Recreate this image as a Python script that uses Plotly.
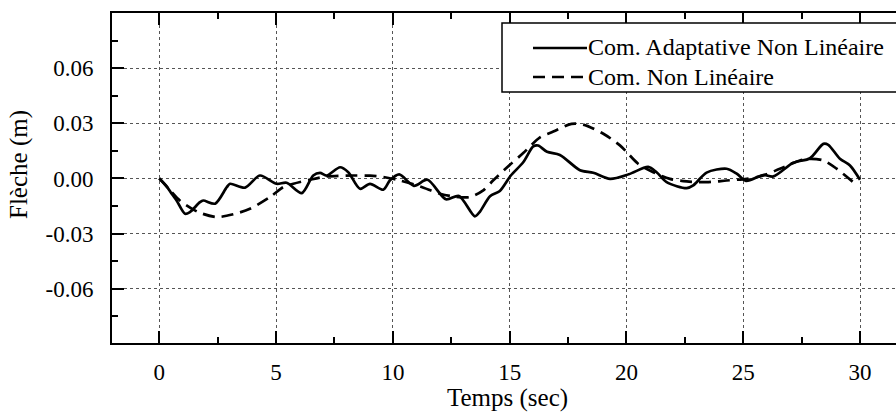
import plotly.graph_objects as go

# ---- data ----
t_adapt = [0.0, 0.3, 0.53, 0.74, 1.1, 1.31, 1.74, 1.88, 2.39, 2.89, 3.03, 3.67, 4.31, 5.02, 5.45,
           6.1, 6.59, 6.88, 7.17, 7.74, 8.09, 8.59, 9.02, 9.59, 9.88, 10.27, 10.9, 11.48, 12.27,
           12.83, 13.51, 13.73, 14.16, 14.58, 15.05, 15.58, 16.01, 16.22, 16.6, 17.15, 18.01,
           18.58, 19.3, 20.1, 20.93, 21.29, 21.72, 22.58, 22.86, 23.43, 24.29, 24.72, 25.12,
           25.86, 26.29, 27.14, 27.86, 28.43, 28.64, 29.14, 29.57, 30.0]
y_adapt = [0.0, -0.004, -0.0083, -0.012, -0.0192, -0.0183, -0.0129, -0.012, -0.0137, -0.0047,
           -0.0029, -0.005, 0.0016, -0.0029, -0.0023, -0.008, 0.0016, 0.003, 0.0016, 0.0061,
           0.0034, -0.0056, -0.0029, -0.0061, -0.001, 0.0022, -0.004, -0.0007, -0.0113, -0.0095,
           -0.0206, -0.018, -0.0097, -0.0068, 0.0016, 0.0088, 0.0174, 0.0179, 0.0145, 0.0128,
           0.0045, 0.0031, -0.0002, 0.0023, 0.0063, 0.0034, -0.002, -0.0053, -0.0038, 0.0032,
           0.0053, 0.0026, -0.0013, 0.0019, 0.0011, 0.0085, 0.011, 0.0188, 0.0183, 0.0107,
           0.0071, -0.0007]

t_nonlin = [0.0, 0.5, 0.88, 1.67, 2.46, 3.17, 3.88, 4.74, 5.31, 5.74, 6.45, 7.17, 8.31, 9.02,
            9.6, 10.3, 11.16, 12.02, 12.6, 13.3, 13.87, 14.3, 15.0, 15.58, 16.3, 16.87, 17.65,
            18.15, 19.01, 19.72, 20.08, 20.5, 21.15, 21.86, 22.58, 23.43, 24.29, 25.15, 25.86,
            26.57, 27.43, 27.86, 28.43, 29.0, 29.71, 29.8]
y_nonlin = [0.0, -0.007, -0.012, -0.0183, -0.021, -0.0195, -0.0165, -0.0101, -0.0047, -0.0029,
            -0.0007, 0.0011, 0.0016, 0.0015, 0.0008, -0.0011, -0.0043, -0.0083, -0.0098, -0.0101,
            -0.0065, -0.001, 0.0073, 0.0138, 0.0224, 0.0255, 0.0297, 0.0293, 0.0243, 0.018,
            0.0134, 0.008, 0.0034, -0.0002, -0.0016, -0.002, -0.0011, -0.0002, 0.0016, 0.0053,
            0.0098, 0.0107, 0.0098, 0.0053, -0.002, -0.003]

series_names = ["Com. Adaptative Non Linéaire", "Com. Non Linéaire"]
x_tickvals = [0, 5, 10, 15, 20, 25, 30]
y_tickvals = [-0.06, -0.03, 0.0, 0.03, 0.06]
y_ticktext = ["-0.06", "-0.03", "0.00", "0.03", "0.06"]

FONT = '"Liberation Serif", "Times New Roman", Times, serif'
DASH = "12px,7px"

fig = go.Figure()
fig.add_trace(go.Scatter(x=t_adapt, y=y_adapt, mode="lines", name=series_names[0],
                         line=dict(color="black", width=2.7, shape="spline", smoothing=0.8)))
fig.add_trace(go.Scatter(x=t_nonlin, y=y_nonlin, mode="lines", name=series_names[1],
                         line=dict(color="black", width=2.7, dash=DASH, shape="spline", smoothing=0.8)))

W, H = 896, 417
ml, mr, mt, mb = 112, 0, 13, 74
pw, ph = W - ml - mr, H - mt - mb

def px(x):
    return (x - ml) / pw

def py(y):
    return (H - mb - y) / ph

fig.update_layout(
    width=W, height=H,
    margin=dict(l=ml, r=mr, t=mt, b=mb, pad=0),
    paper_bgcolor="white", plot_bgcolor="white",
    showlegend=False,
    font=dict(family=FONT, size=23, color="black"),
)

fig.update_xaxes(
    range=[-2.025, 31.54], tickvals=x_tickvals,
    showline=True, linecolor="black", linewidth=2, mirror="ticks",
    ticks="inside", ticklen=12, tickwidth=2, tickcolor="black",
    ticklabelstandoff=7,
    showgrid=True, gridcolor="#555555", gridwidth=1, griddash="dot",
    zeroline=False,
    minor=dict(dtick=2.5, tick0=0, ticks="inside", ticklen=6, tickwidth=2, tickcolor="black", showgrid=False),
    tickfont=dict(family=FONT, size=23),
)
fig.update_yaxes(
    range=[-0.0895, 0.09], tickvals=y_tickvals, ticktext=y_ticktext,
    showline=True, linecolor="black", linewidth=2, mirror=False,
    ticks="inside", ticklen=12, tickwidth=2, tickcolor="black",
    ticklabelstandoff=12,
    showgrid=True, gridcolor="#555555", gridwidth=1, griddash="dot",
    zeroline=False,
    minor=dict(dtick=0.015, tick0=0, ticks="inside", ticklen=6, tickwidth=2, tickcolor="black", showgrid=False),
    tickfont=dict(family=FONT, size=23),
)

# axis titles
fig.add_annotation(text="Temps (sec)", xref="paper", yref="paper", x=px(507), y=py(398),
                   showarrow=False, font=dict(family=FONT, size=25), xanchor="center", yanchor="middle")
fig.add_annotation(text="Flèche (m)", xref="paper", yref="paper", x=px(19), y=py(165),
                   showarrow=False, font=dict(family=FONT, size=25), textangle=-90,
                   xanchor="center", yanchor="middle")

# legend box (drawn manually, clipped by the page on the right like the reference)
fig.add_shape(type="rect", xref="paper", yref="paper", x0=px(502), x1=px(910), y0=py(92), y1=py(23),
              line=dict(color="black", width=1.5), fillcolor="white", layer="above")
fig.add_shape(type="line", xref="paper", yref="paper", x0=px(533), x1=px(587), y0=py(48), y1=py(48),
              line=dict(color="black", width=2.6))
fig.add_shape(type="line", xref="paper", yref="paper", x0=px(533), x1=px(587), y0=py(77), y1=py(77),
              line=dict(color="black", width=2.6, dash=DASH))
fig.add_annotation(text=series_names[0], xref="paper", yref="paper", x=px(586), y=py(47),
                   showarrow=False, font=dict(family=FONT, size=24), xanchor="left", yanchor="middle")
fig.add_annotation(text=series_names[1], xref="paper", yref="paper", x=px(586), y=py(77),
                   showarrow=False, font=dict(family=FONT, size=24), xanchor="left", yanchor="middle")

fig.write_html("out.html")
